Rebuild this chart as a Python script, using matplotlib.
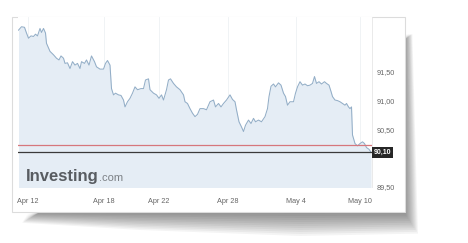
import numpy as np
import matplotlib
matplotlib.use('Agg')
import matplotlib.pyplot as plt
from matplotlib.patches import Rectangle, Polygon

plt.rc('font', family='Liberation Sans')

# hours from Apr 12 00:00 (trading time) and index level
hours = [-19, -13, -7, -3, 1, 6, 11, 15, 19, 24, 27, 31, 35, 37, 44, 51, 57, 62, 66, 71,
         74, 79, 84, 89, 94, 99, 104, 107, 113, 117, 122, 127, 133, 137, 144, 151, 155, 159, 164, 167,
         171, 175, 181, 186, 191, 194, 199, 204, 209, 214, 219, 226, 231, 235, 241, 244, 251, 257, 262, 267,
         271, 274, 277, 281, 285, 291, 297, 304, 311, 314, 319, 324, 329, 334, 339, 344, 351, 357, 364, 371,
         375, 381, 386, 391, 397, 404, 409, 414, 417, 422, 427, 431, 435, 441, 446, 451, 455, 461, 467, 474,
         479, 482, 486, 491, 495, 501, 506, 511, 515, 519, 524, 531, 535, 539, 544, 549, 554, 559, 564, 569,
         573, 577, 582, 587, 593, 597, 602, 606, 609, 614, 619, 624, 629, 634, 637, 641, 644, 647, 649, 654,
         659, 664, 669, 673, 677, 682, 686]
prices = [92.23, 92.29, 92.28, 92.18, 92.09, 92.13, 92.12, 92.16, 92.13, 92.26, 92.19, 92.26, 92.18, 92.00, 91.86, 91.80, 91.74, 91.71, 91.78, 91.74,
          91.65, 91.66, 91.56, 91.68, 91.62, 91.65, 91.56, 91.68, 91.65, 91.71, 91.62, 91.78, 91.68, 91.59, 91.55, 91.55, 91.65, 91.70, 91.62, 91.21,
          91.10, 91.13, 91.10, 91.09, 91.01, 90.89, 90.98, 91.04, 91.13, 91.24, 91.19, 91.21, 91.21, 91.36, 91.38, 91.19, 91.13, 91.10, 91.04, 91.10,
          91.01, 91.10, 91.19, 91.36, 91.38, 91.30, 91.24, 91.19, 91.10, 90.98, 90.95, 90.86, 90.78, 90.72, 90.76, 90.86, 90.86, 90.84, 90.98, 91.01,
          90.89, 90.95, 90.89, 90.95, 91.01, 91.10, 91.02, 90.98, 90.84, 90.63, 90.54, 90.46, 90.57, 90.66, 90.60, 90.69, 90.63, 90.66, 90.63, 90.72,
          90.86, 91.07, 91.25, 91.29, 91.24, 91.31, 91.27, 91.13, 91.07, 90.92, 90.98, 90.98, 91.13, 91.24, 91.33, 91.27, 91.29, 91.26, 91.27, 91.30,
          91.42, 91.30, 91.33, 91.29, 91.33, 91.30, 91.27, 91.16, 91.07, 91.01, 91.00, 90.98, 90.95, 90.92, 90.95, 90.89, 90.86, 90.89, 90.40, 90.25,
          90.21, 90.25, 90.28, 90.25, 90.18, 90.15, 90.10]

tick_hours = [0, 152, 262, 400, 536, 664]
tick_labels = ['Apr 12', 'Apr 18', 'Apr 22', 'Apr 28', 'May 4', 'May 10']
y_ticks = [89.5, 90.5, 91.0, 91.5]
prev_close = 90.22
last = 90.10

W, H = 468, 243
fig = plt.figure(figsize=(W / 100, H / 100), dpi=100)
fig.patch.set_facecolor('white')


def fx(px):
    return px / W


def fy(py):
    return 1 - py / H


# soft drop shadow under the panel (lifted corner look)
n = 12
for k in range(n):
    f = 1 - k / n
    rw = 14 * f
    bh = 24 * f
    pts = [(fx(40), fy(212)), (fx(404), fy(212)), (fx(404), fy(40)),
           (fx(404 + rw * 0.6), fy(34)), (fx(404 + rw), fy(212 + bh * 0.9)),
           (fx(300), fy(212 + bh)), (fx(140), fy(212 + bh * 0.75)),
           (fx(22 + 6 * (1 - f)), fy(212 + bh * 0.45))]
    fig.patches.append(Polygon(pts, closed=True, transform=fig.transFigure,
                               facecolor='#000000', alpha=0.045, lw=0, zorder=0))

# chart panel
fig.patches.append(Rectangle((fx(12), fy(212)), fx(405) - fx(12), fy(17) - fy(212),
                             transform=fig.transFigure, facecolor='white',
                             edgecolor='#dcdcdc', lw=0.8, zorder=1))

ax = fig.add_axes([fx(18), fy(186.5), fx(372) - fx(18), fy(17) - fy(186.5)], zorder=2)
ax.set_facecolor('white')
ax.fill_between(hours, prices, 89.0, color='#e5edf5', lw=0, zorder=1)
ax.plot(hours, prices, color='#93aec7', lw=0.75, zorder=3)
ax.axhline(prev_close, color='#d6777d', lw=0.9, zorder=4)
ax.axhline(last, color='#3a3a3a', lw=0.9, zorder=4)

ax.set_xlim(-20, 688)
ax.set_ylim(89.5, 92.46)
for t in tick_hours:
    ax.axvline(t, color='#eef1f4', lw=0.6, zorder=0.5)

ax.set_xticks(tick_hours)
ax.set_xticklabels(tick_labels)
ax.set_yticks(y_ticks)
ax.set_yticklabels([('%.2f' % v).replace('.', ',') for v in y_ticks])
ax.yaxis.tick_right()
ax.tick_params(axis='both', length=0, labelsize=5.2, colors='#666666')
ax.tick_params(axis='x', pad=8)
ax.tick_params(axis='y', pad=3)
for lab in ax.get_yticklabels():
    lab.set_horizontalalignment('left')
for s in ['top', 'left', 'bottom']:
    ax.spines[s].set_visible(False)
ax.spines['right'].set_color('#e6e6e6')
ax.spines['right'].set_linewidth(0.6)

# last price tag
ax.text(1.005, last, ('%.2f' % last).replace('.', ','), transform=ax.get_yaxis_transform(),
        ha='left', va='center', fontsize=5, color='white', fontweight='bold', zorder=6,
        bbox=dict(boxstyle='square,pad=0.3', facecolor='#262626', edgecolor='none'),
        clip_on=False)

# watermark
fig.text(fx(26), fy(181), 'Investing', fontsize=12, fontweight='bold',
         color='#585c61', ha='left', va='baseline', zorder=5)
fig.text(fx(98.5), fy(181), '.com', fontsize=8, color='#7d8186',
         ha='left', va='baseline', zorder=5)

fig.savefig('out.png', dpi=100, facecolor='white')
